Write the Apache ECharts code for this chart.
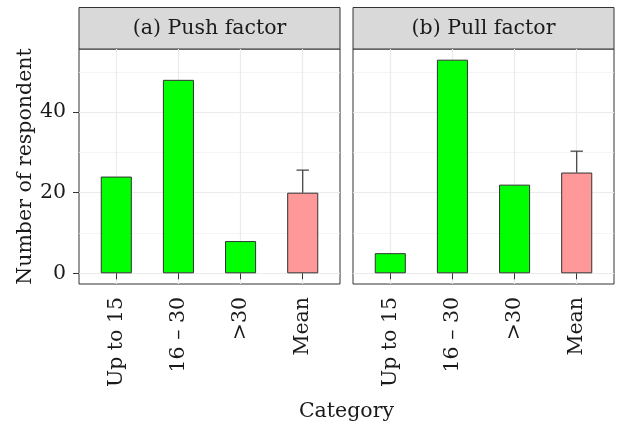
<!DOCTYPE html>
<html>
<head>
<meta charset="utf-8">
<script src="https://cdn.jsdelivr.net/npm/echarts@6/dist/echarts.min.js"></script>
<style>html,body{margin:0;padding:0;background:#fff;}#c{width:620px;height:430px;}</style>
</head>
<body>
<div id="c"></div>
<script>
// ---- data ----
const categories = ['Up to 15', '16 – 30', '>30', 'Mean'];
const panelTitles = ['(a) Push factor', '(b) Pull factor'];
const pushValues = [24, 48, 8, 20];
const pullValues = [5, 53, 22, 25];
const pushMeanError = 5.6;
const pullMeanError = 5.3;
const yMajorTicks = [0, 20, 40];
const yMinorTicks = [10, 30, 50];
const yTitle = 'Number of respondent';
const xTitle = 'Category';

// ---- layout / style ----
const FONT = 'DejaVu Serif';
const FS = 20.5;
const GREEN = '#00ff00', PINK = '#ff9999';
const panels = [{left: 79, top: 49, width: 261, height: 235}, {left: 353, top: 49, width: 261, height: 235}];
const stripTop = 7.5;
const yMin = -2.65, yMax = 55.65;
const xMin = 0.4, xMax = 4.6;
const catPos = categories.map((c, i) => i + 1);

const chart = echarts.init(document.getElementById('c'), null, {renderer: 'canvas'});

const grids = panels.map(p => ({left: p.left, top: p.top, width: p.width, height: p.height,
  show: true, backgroundColor: '#fff', borderColor: '#333', borderWidth: 1, containLabel: false}));

const xAxes = panels.map((p, gi) => ({
  type: 'value', gridIndex: gi, min: xMin, max: xMax,
  axisLine: {show: false},
  axisTick: {show: true, customValues: catPos, length: 6, lineStyle: {color: '#333', width: 1}},
  axisLabel: {show: true, customValues: catPos, rotate: 90, margin: 13,
    fontFamily: FONT, fontSize: FS, color: '#1a1a1a',
    formatter: v => categories[Math.round(v) - 1] || ''},
  splitLine: {show: true, lineStyle: {color: '#ebebeb', width: 1.2}}
}));

const yAxes = [];
panels.forEach((p, gi) => {
  yAxes.push({
    type: 'value', gridIndex: gi, min: yMin, max: yMax,
    axisLine: {show: false},
    axisTick: {show: gi === 0, customValues: yMajorTicks, length: 6, lineStyle: {color: '#333', width: 1}},
    axisLabel: {show: gi === 0, customValues: yMajorTicks, margin: 13, fontFamily: FONT, fontSize: FS, color: '#1a1a1a'},
    splitLine: {show: true, lineStyle: {color: '#ebebeb', width: 1.2}},
    name: gi === 0 ? yTitle : '', nameLocation: 'middle', nameGap: 43,
    nameTextStyle: {fontFamily: FONT, fontSize: FS, color: '#1a1a1a'}
  });
  yAxes.push({
    type: 'value', gridIndex: gi, min: yMin, max: yMax,
    axisLine: {show: false},
    axisTick: {show: false, customValues: yMinorTicks},
    axisLabel: {show: false, customValues: yMinorTicks},
    splitLine: {show: true, lineStyle: {color: '#efefef', width: 0.7}}
  });
});

function barSeries(vals, gi) {
  return {
    type: 'bar', xAxisIndex: gi, yAxisIndex: gi * 2, barWidth: '50%', z: 3,
    data: vals.map((v, i) => [catPos[i], v]),
    itemStyle: {
      color: p => categories[p.dataIndex] === 'Mean' ? PINK : GREEN,
      borderColor: '#333', borderWidth: 1
    },
    silent: true, animation: false
  };
}
function errSeries(vals, err, gi) {
  const mi = categories.indexOf('Mean');
  return {
    type: 'custom', xAxisIndex: gi, yAxisIndex: gi * 2, z: 2, silent: true, animation: false,
    data: [[catPos[mi], vals[mi], vals[mi] + err]],
    renderItem: (params, api) => {
      const x = api.value(0), m = api.value(1), hi = api.value(2);
      const p0 = api.coord([x, m]), p1 = api.coord([x, hi]);
      const l = api.coord([x - 0.1, hi]), r = api.coord([x + 0.1, hi]);
      const st = {stroke: '#3a3a3a', lineWidth: 1.2};
      return {type: 'group', children: [
        {type: 'line', shape: {x1: p0[0], y1: p0[1], x2: p1[0], y2: p1[1]}, style: st},
        {type: 'line', shape: {x1: l[0], y1: l[1], x2: r[0], y2: r[1]}, style: st}
      ]};
    }
  };
}

const graphics = [];
panels.forEach((p, gi) => {
  graphics.push({type: 'rect', shape: {x: p.left, y: stripTop, width: p.width, height: p.top - stripTop},
    style: {fill: '#d9d9d9', stroke: '#333', lineWidth: 1}, silent: true});
  graphics.push({type: 'text', x: p.left + p.width / 2, y: (stripTop + p.top) / 2,
    style: {text: panelTitles[gi], fontFamily: FONT, fontSize: FS, fill: '#1a1a1a', align: 'center', verticalAlign: 'middle'}, silent: true});
});
graphics.push({type: 'text', x: (panels[0].left + panels[1].left + panels[1].width) / 2, y: 412,
  style: {text: xTitle, fontFamily: FONT, fontSize: FS, fill: '#1a1a1a', align: 'center', verticalAlign: 'middle'}, silent: true});

chart.setOption({
  backgroundColor: '#fff',
  animation: false,
  grid: grids,
  xAxis: xAxes,
  yAxis: yAxes,
  series: [barSeries(pushValues, 0), barSeries(pullValues, 1),
           errSeries(pushValues, pushMeanError, 0), errSeries(pullValues, pullMeanError, 1)],
  graphic: graphics
});
</script>
</body>
</html>
